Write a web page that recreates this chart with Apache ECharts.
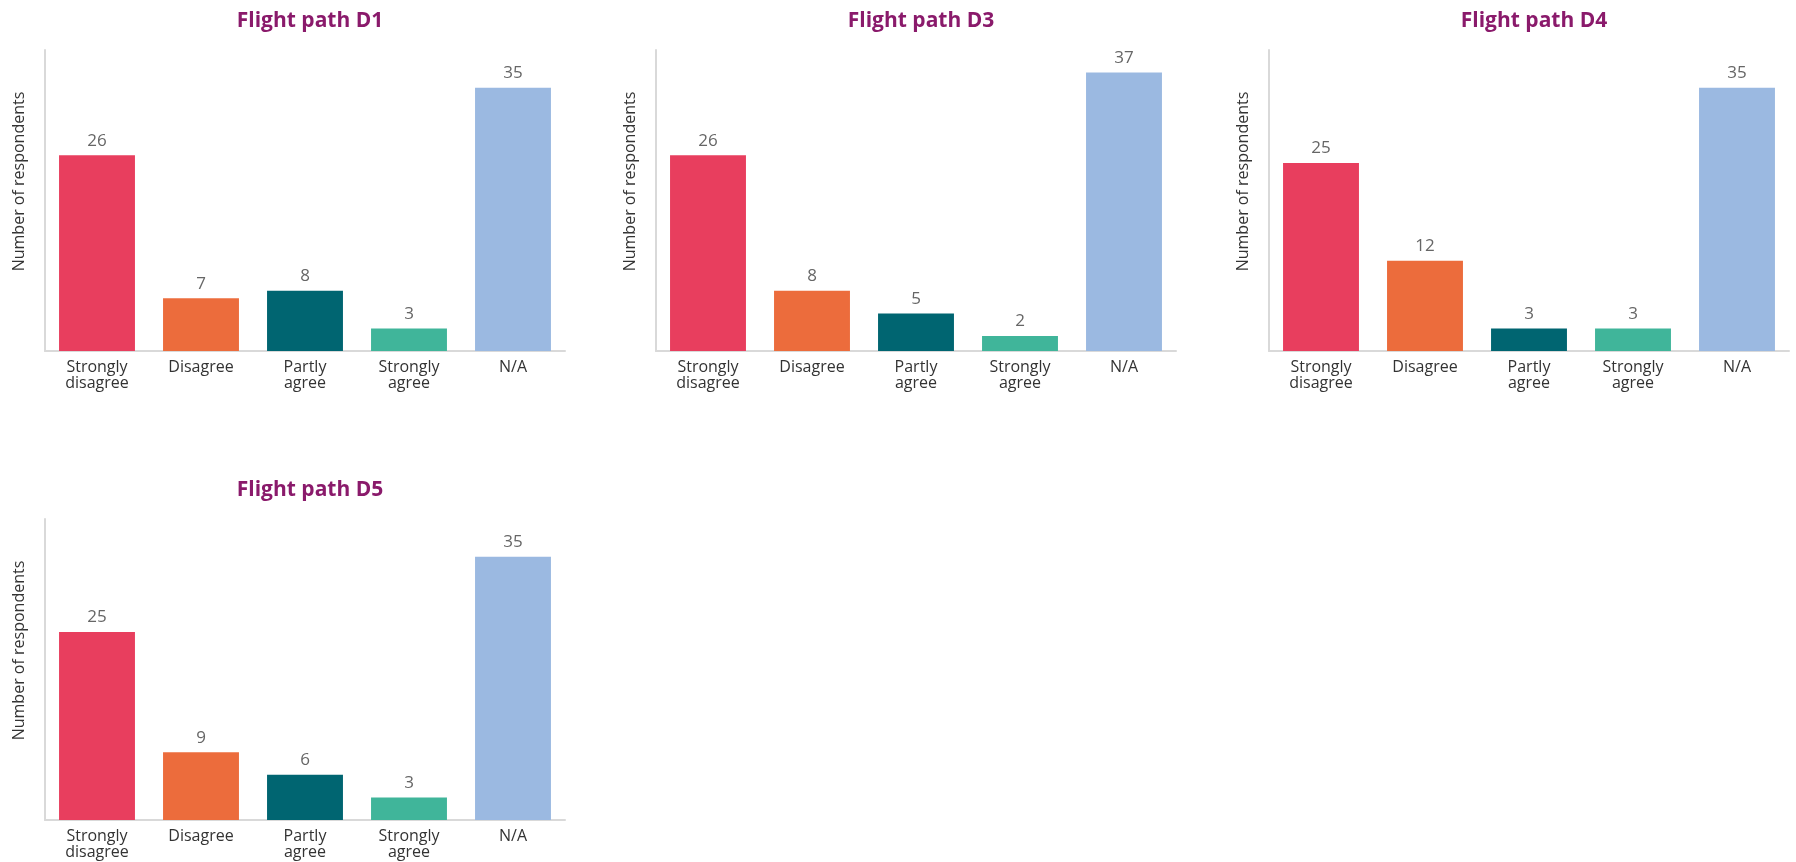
<!DOCTYPE html>
<html>
<head>
<meta charset="utf-8">
<script src="https://cdn.jsdelivr.net/npm/echarts@6/dist/echarts.min.js"></script>
<style>
html,body{margin:0;padding:0;background:#fff;}
#c{width:1796px;height:862px;}
</style>
</head>
<body>
<div id="c"></div>
<script>
const categories = ['Strongly\ndisagree', 'Disagree', 'Partly\nagree', 'Strongly\nagree', 'N/A'];
const titles = ['Flight path D1', 'Flight path D3', 'Flight path D4', 'Flight path D5'];
const d1 = [26, 7, 8, 3, 35];
const d3 = [26, 8, 5, 2, 37];
const d4 = [25, 12, 3, 3, 35];
const d5 = [25, 9, 6, 3, 35];
const yAxisName = 'Number of respondents';
const yMax = 40;

const barColors = ['#E83E5E', '#EC6C3C', '#006571', '#40B59A', '#9BB9E1'];
const panels = [d1, d3, d4, d5];
const grids = [
  {left: 45, top: 50, width: 520, height: 301},
  {left: 656, top: 50, width: 520, height: 301},
  {left: 1269, top: 50, width: 520, height: 301},
  {left: 45, top: 519, width: 520, height: 301}
];
const font = '"Open Sans", "Noto Sans", sans-serif';

const option = {
  backgroundColor: '#fff',
  animation: false,
  title: titles.map((t, i) => ({
    text: t,
    left: grids[i].left + grids[i].width / 2,
    top: grids[i].top - 44,
    textAlign: 'center',
    textStyle: {color: '#8A1A6B', fontSize: 21, fontWeight: 'bold', fontFamily: font}
  })),
  grid: grids,
  xAxis: panels.map((p, i) => ({
    type: 'category',
    gridIndex: i,
    data: categories,
    axisLine: {lineStyle: {color: '#D9D9D9', width: 2}},
    axisTick: {show: false},
    axisLabel: {color: '#333', fontSize: 16, fontFamily: font, lineHeight: 16, margin: 8, interval: 0}
  })),
  yAxis: panels.map((p, i) => ({
    type: 'value',
    gridIndex: i,
    min: 0,
    max: yMax,
    name: yAxisName,
    nameLocation: 'middle',
    nameGap: 18,
    nameTextStyle: {color: '#333', fontSize: 16, fontFamily: font, padding: [0, 0, 0, 38]},
    axisLine: {show: true, lineStyle: {color: '#D9D9D9', width: 2}},
    axisTick: {show: false},
    axisLabel: {show: false},
    splitLine: {show: false}
  })),
  series: panels.map((p, i) => ({
    type: 'bar',
    xAxisIndex: i,
    yAxisIndex: i,
    barWidth: '73%',
    data: p.map((v, j) => ({value: v, itemStyle: {color: barColors[j]}})),
    label: {show: true, position: 'top', color: '#666', fontSize: 17, fontFamily: font, distance: 6}
  }))
};

echarts.init(document.getElementById('c')).setOption(option);
</script>
</body>
</html>
